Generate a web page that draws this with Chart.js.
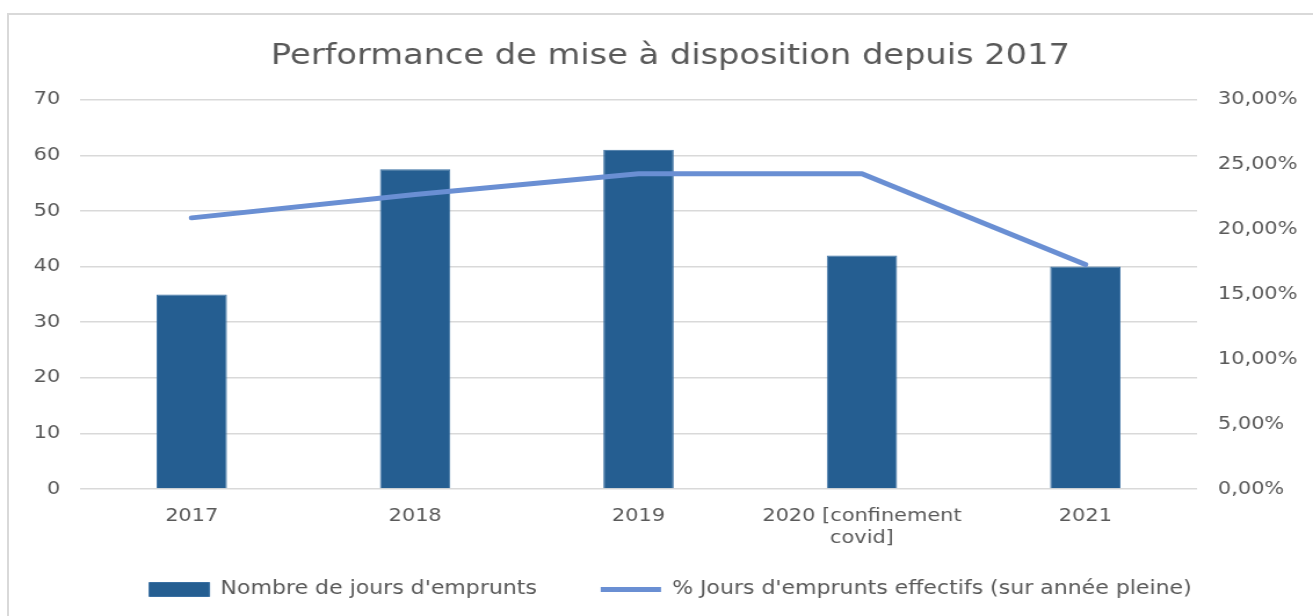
<!DOCTYPE html>
<html>
<head>
<meta charset="utf-8">
<script src="https://cdn.jsdelivr.net/npm/chart.js@4"></script>
<style>
    html, body { margin: 0; padding: 0; background: #fff; overflow: hidden; }
    #wrap { position: relative; width: 1313px; height: 616px; overflow: hidden; }
    #frame { position: absolute; left: 7px; top: 13px; width: 1320px; height: 620px; border: 2px solid #d9d9d9; box-sizing: border-box; pointer-events: none; }
    /* the source picture is stretched sideways, so draw narrow and stretch */
    canvas { position: absolute; left: 0; top: 0; transform-origin: 0 0; transform: scaleX(1.1599); }
</style>
</head>
<body>
<div id="wrap">
    <canvas id="chart" width="1132" height="616"></canvas>
    <div id="frame"></div>
</div>
<script>
/* --------------------------
   DATA
--------------------------- */
const years = ['2017', '2018', '2019', ['2020 [confinement', 'covid]'], '2021'];
const joursEmprunts = [35, 57.5, 61, 42, 40];
const pctEffectifs = [20.9, 22.7, 24.3, 24.3, 17.3]; // en %
const leftTicks = [0, 10, 20, 30, 40, 50, 60, 70];
const rightTicks = [0, 5, 10, 15, 20, 25, 30];

const grey = '#595959';
const font = 'DejaVu Sans';

/* --------------------------
   LEGEND: wide gap between items but not a tall box
--------------------------- */
const squeeze = 24;
const legendSqueeze = {
    id: 'legendSqueeze',
    beforeLayout(chart) {
        const lg = chart.legend;
        if (!lg || lg._squeezed) return;
        const fit = lg.fit, draw = lg.draw;
        lg.fit = function () { fit.call(this); this.height -= squeeze; };
        lg.draw = function () { this.top -= squeeze; draw.call(this); this.top += squeeze; };
        lg._squeezed = true;
    }
};

/* --------------------------
   CHART
--------------------------- */
const ctx = document.getElementById('chart').getContext('2d');

const chart = new Chart(ctx, {
    type: 'bar',
    data: {
        labels: years,
        datasets: [{
            type: 'bar',
            label: "Nombre de jours d'emprunts",
            data: joursEmprunts,
            backgroundColor: '#255e91',
            borderColor: '#3a70a3',
            borderWidth: 1,
            barPercentage: 0.9,
            categoryPercentage: 0.35,
            yAxisID: 'y',
            order: 2,
            pointStyle: 'rect'
        }, {
            type: 'line',
            label: "% Jours d'emprunts effectifs (sur année pleine)",
            data: pctEffectifs,
            borderColor: '#6a8fd3',
            backgroundColor: '#6a8fd3',
            borderWidth: 5,
            borderCapStyle: 'round',
            borderJoinStyle: 'round',
            pointRadius: 0,
            tension: 0,
            yAxisID: 'y1',
            order: 1,
            pointStyle: 'line'
        }]
    },
    options: {
        responsive: false,
        animation: false,
        layout: { padding: { top: 39, left: 24, right: 0, bottom: 7 } },
        scales: {
            x: {
                grid: { display: false, drawTicks: false },
                border: { display: false },
                afterFit: s => { s.height = 60; },
                ticks: { color: grey, font: { family: font, size: 18 }, padding: 17, maxRotation: 0 }
            },
            y: {
                position: 'left',
                min: 0,
                max: 70,
                afterBuildTicks: s => { s.ticks = leftTicks.map(v => ({ value: v })); },
                afterFit: s => { s.width = 45; },
                grid: { color: '#d9d9d9', lineWidth: 1.5, drawTicks: false },
                border: { display: false },
                ticks: { color: grey, font: { family: font, size: 18 }, padding: 17 }
            },
            y1: {
                position: 'right',
                min: 0,
                max: 30,
                afterBuildTicks: s => { s.ticks = rightTicks.map(v => ({ value: v })); },
                afterFit: s => { s.width = 100; },
                grid: { display: false, drawTicks: false },
                border: { display: false },
                ticks: {
                    color: grey,
                    font: { family: font, size: 18 },
                    padding: 18,
                    callback: v => v.toFixed(2).replace('.', ',') + '%'
                }
            }
        },
        plugins: {
            title: {
                display: true,
                text: 'Performance de mise à disposition depuis 2017',
                color: grey,
                font: { family: font, size: 29, weight: 'normal' },
                padding: { top: 0, bottom: 26 }
            },
            legend: {
                position: 'bottom',
                labels: {
                    color: grey,
                    font: { family: font, size: 19 },
                    usePointStyle: true,
                    pointStyleWidth: 52,
                    boxHeight: 14,
                    padding: 55,
                    sort: (a, b) => a.datasetIndex - b.datasetIndex
                }
            },
            tooltip: { enabled: false }
        }
    },
    plugins: [legendSqueeze]
});
</script>
</body>
</html>
